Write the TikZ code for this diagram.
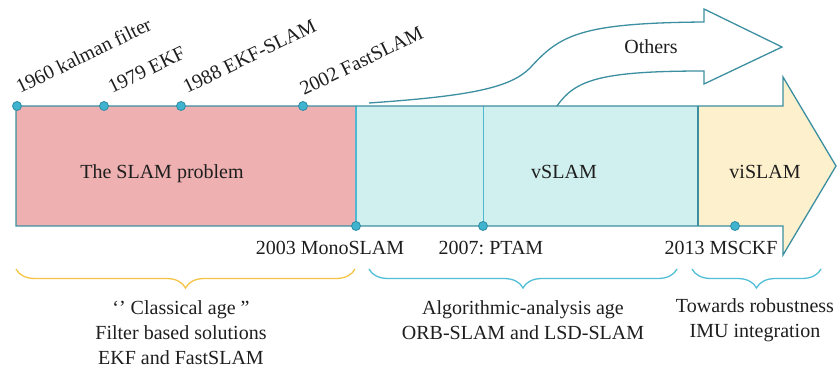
\documentclass[tikz,border=0pt]{standalone}
\usepackage{fontspec}
\setmainfont{Liberation Serif}
\frenchspacing
\usetikzlibrary{decorations.pathreplacing}
\definecolor{tealline}{RGB}{60,143,160}
\definecolor{pinkfill}{RGB}{238,176,176}
\definecolor{cyanfill}{RGB}{207,240,238}
\definecolor{yellowfill}{RGB}{253,240,204}
\definecolor{divcyan}{RGB}{78,184,210}
\definecolor{dotfill}{RGB}{64,180,206}
\definecolor{dotdraw}{RGB}{46,140,165}
\definecolor{braceyellow}{RGB}{245,195,70}
\definecolor{bracecyan}{RGB}{80,190,215}
\definecolor{txt}{RGB}{30,30,30}
\tikzset{
  dotnode/.style={circle,fill=dotfill,draw=dotdraw,line width=0.8pt,minimum size=9pt,inner sep=0pt},
  lbl/.style={text=txt,font=\fontsize{20}{25}\selectfont,inner sep=0pt},
  rlbl/.style={lbl,anchor=base west,rotate=26},
  bracedeco/.style={decorate,decoration={brace,mirror,amplitude=19pt,aspect=0.5},line width=1.3pt},
}
\begin{document}
\begin{tikzpicture}[x=1pt,y=1pt]
\useasboundingbox (0,0) rectangle (840,370);
% fills
\fill[pinkfill] (16,144) rectangle (356,264);
\fill[cyanfill] (356,144) rectangle (698,264);
\fill[yellowfill] (698,144) -- (698,264) -- (783,264) -- (783,293) -- (836,204) -- (783,115) -- (783,144) -- cycle;
% dividers
\draw[divcyan,line width=1.2pt] (356,144) -- (356,264);
\draw[divcyan,line width=1pt] (483,144) -- (483,264);
\draw[tealline,line width=1.2pt] (698,144) -- (698,264);
% outline of main arrow
\draw[tealline,line width=1.3pt,line join=miter] (16,264) -- (783,264) -- (783,293) -- (836,204) -- (783,115) -- (783,144) -- (16,144) -- cycle;
% Others arrow
\draw[tealline,line width=1.3pt,line join=miter]
  (369,267) .. controls (470,274) and (510,282) .. (530,302)
  .. controls (560,335) and (580,347) .. (704,348)
  -- (704,361) -- (782,323) -- (704,286) -- (704,299)
  .. controls (600,299) and (575,290) .. (557,264);
\node[lbl] (others) at (651,323) {Others};
% region labels
\node[lbl] (slam) at (162,196) {The SLAM problem};
\node[lbl] (vslam) at (564,198) {vSLAM};
\node[lbl] (vislam) at (765,198) {viSLAM};
% dots
\node[dotnode] (d1960) at (17,264) {};
\node[dotnode] (d1979) at (104,264) {};
\node[dotnode] (d1988) at (181,264) {};
\node[dotnode] (d2002) at (303,264) {};
\node[dotnode] (d2003) at (356,144) {};
\node[dotnode] (d2007) at (483,144) {};
\node[dotnode] (d2013) at (735,144) {};
% rotated labels
\node[rlbl] (l1960) at (20,276) {1960 kalman filter};
\node[rlbl] (l1979) at (112,276) {1979 EKF};
\node[rlbl] (l1988) at (187,276) {1988 EKF-SLAM};
\node[rlbl] (l2002) at (304,274) {2002 FastSLAM};
% bottom labels
\node[lbl] (l2003) at (330,122) {2003 MonoSLAM};
\node[lbl] (l2007) at (491,122) {2007: PTAM};
\node[lbl] (l2013) at (721,122) {2013 MSCKF};
% braces
\coordinate (b1a) at (16,101); \coordinate (b1b) at (355,101);
\coordinate (b2a) at (369,101); \coordinate (b2b) at (677,101);
\coordinate (b3a) at (692,101); \coordinate (b3b) at (821,101);
\draw[bracedeco,braceyellow] (b1a) -- (b1b);
\draw[bracedeco,bracecyan] (b2a) -- (b2b);
\draw[bracedeco,bracecyan] (b3a) -- (b3b);
% brace texts
\node[lbl,align=center] (t1) at (181,37) {‘’ Classical age ”\\Filter based solutions\\EKF and FastSLAM};
\node[lbl,align=center] (t2) at (523,49.5) {Algorithmic-analysis age\\ORB-SLAM and LSD-SLAM};
\node[lbl,align=center] (t3) at (755,49.5) {Towards robustness\\IMU integration};
\end{tikzpicture}
\end{document}
